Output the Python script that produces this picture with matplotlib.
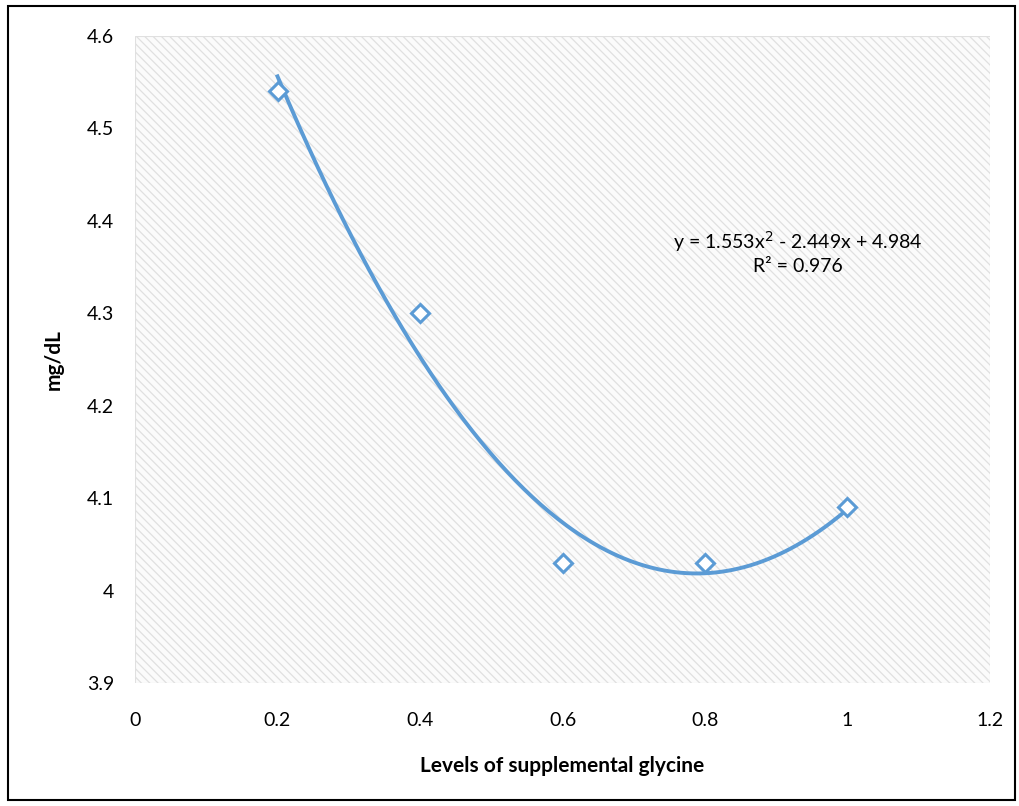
import numpy as np
import matplotlib
matplotlib.use("Agg")
import matplotlib.pyplot as plt
from matplotlib.patches import Rectangle

plt.rcParams['font.family'] = ['Lato', 'DejaVu Sans']
plt.rcParams['hatch.color'] = '#dedede'
plt.rcParams['hatch.linewidth'] = 0.9

levels = [0.2, 0.4, 0.6, 0.8, 1.0]
values = [4.54, 4.30, 4.03, 4.03, 4.09]
x_ticks = [0, 0.2, 0.4, 0.6, 0.8, 1, 1.2]
x_tick_labels = ['0', '0.2', '0.4', '0.6', '0.8', '1', '1.2']
y_ticks = [3.9, 4.0, 4.1, 4.2, 4.3, 4.4, 4.5, 4.6]
y_tick_labels = ['3.9', '4', '4.1', '4.2', '4.3', '4.4', '4.5', '4.6']
fit_coefs = [1.553, -2.449, 4.984]

blue = '#5B9BD5'

fig = plt.figure(figsize=(10.19, 8.06), dpi=100)
fig.patches.append(Rectangle((8/1019, 6/806), 1 - 12/1019, 1 - 12/806,
                             transform=fig.transFigure, fill=False,
                             edgecolor='black', linewidth=1.5))

ax = fig.add_axes([135/1019, 1 - 683/806, (990-135)/1019, (683-36)/806])
ax.set_xlim(0, 1.2)
ax.set_ylim(3.9, 4.6)
ax.add_patch(Rectangle((0, 0), 1, 1, transform=ax.transAxes,
                       facecolor='#fbfbfb', edgecolor='#e0e0e0',
                       hatch='\\\\\\\\', linewidth=0.8, zorder=0))
for s in ax.spines.values():
    s.set_visible(False)

xs = np.linspace(min(levels), max(levels), 200)
ys = np.polyval(fit_coefs, xs)
ax.plot(xs, ys, color=blue, linewidth=2.8, zorder=2)
ax.plot(levels, values, linestyle='none', marker='D', markersize=9,
        markerfacecolor='white', markeredgecolor=blue, markeredgewidth=2.2,
        zorder=3)

ax.text(0.93, 4.366, 'y = 1.553x$^{2}$ - 2.449x + 4.984\nR² = 0.976',
        ha='center', va='center', fontsize=14, linespacing=1.3)

ax.set_xticks(x_ticks)
ax.set_xticklabels(x_tick_labels)
ax.set_yticks(y_ticks)
ax.set_yticklabels(y_tick_labels)
ax.tick_params(axis='x', length=0, pad=21, labelsize=14)
ax.tick_params(axis='y', length=0, pad=15, labelsize=14)

ax.set_xlabel('Levels of supplemental glycine', fontsize=15, fontweight='bold', labelpad=19)
ax.set_ylabel('mg/dL', fontsize=15, fontweight='bold', labelpad=17)

fig.savefig('out.png', dpi=100)
